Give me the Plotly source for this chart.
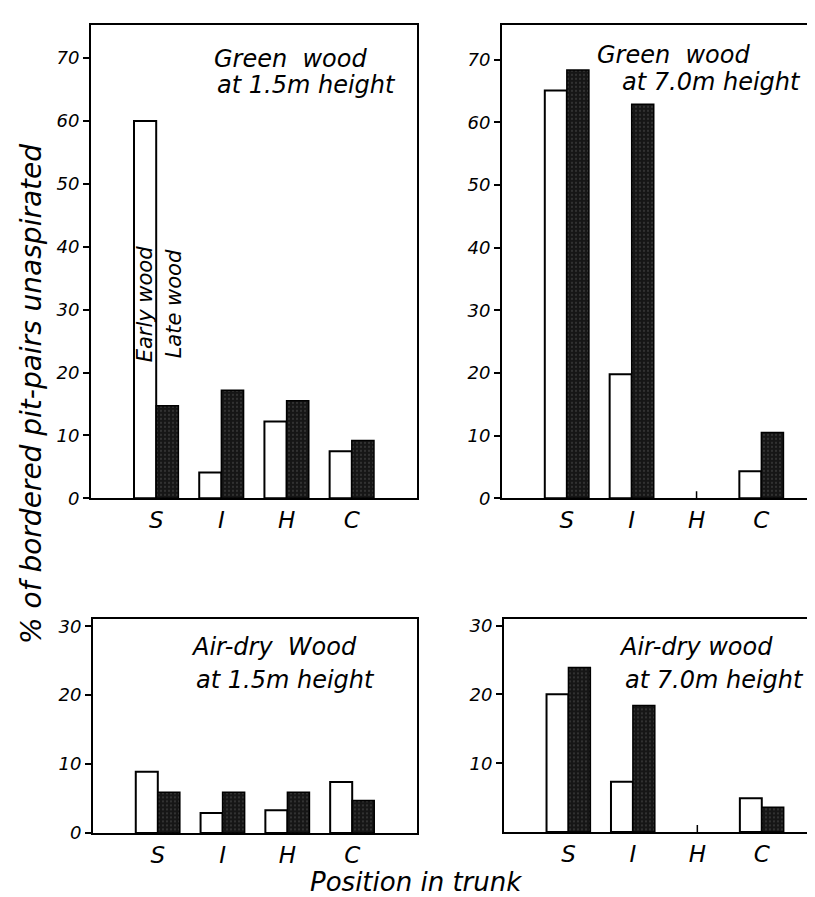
import plotly.graph_objects as go

categories = ["S", "I", "H", "C"]

green_15_early = [60.0, 4.1, 12.2, 7.5]
green_15_late = [14.7, 17.2, 15.5, 9.2]
green_70_early = [65.1, 19.8, None, 4.3]
green_70_late = [68.4, 62.9, None, 10.5]
air_15_early = [8.9, 2.9, 3.3, 7.4]
air_15_late = [5.9, 5.9, 5.9, 4.7]
air_70_early = [20.0, 7.3, None, 4.9]
air_70_late = [23.9, 18.4, None, 3.6]

top_ticks = [0, 10, 20, 30, 40, 50, 60, 70]
bl_ticks = [0, 10, 20, 30]
br_ticks = [10, 20, 30]

W, H = 815, 897
FONT = "DejaVu Sans"

def px_x(p):
    return p / W

def px_y(p):
    return 1 - p / H

fig = go.Figure()

panels = [
    ("x", "y", green_15_early, green_15_late),
    ("x2", "y2", green_70_early, green_70_late),
    ("x3", "y3", air_15_early, air_15_late),
    ("x4", "y4", air_70_early, air_70_late),
]

for xa, ya, early, late in panels:
    fig.add_trace(go.Bar(
        x=categories, y=early, xaxis=xa, yaxis=ya, name="Early wood",
        marker=dict(color="white", line=dict(color="black", width=2)),
        showlegend=False,
    ))
    fig.add_trace(go.Bar(
        x=categories, y=late, xaxis=xa, yaxis=ya, name="Late wood",
        marker=dict(color="#161616", line=dict(color="black", width=1.5),
                    pattern=dict(shape=".", fgcolor="#9a9a9a", bgcolor="#161616",
                                 size=4, solidity=0.12)),
        showlegend=False,
    ))

xbase = dict(type="category", showline=True, linecolor="black", linewidth=2,
             mirror=True, ticks="", showgrid=False, zeroline=False,
             tickfont=dict(family=FONT, size=23, color="black", style="italic"))
ybase = dict(showline=True, linecolor="black", linewidth=2, ticks="outside",
             ticklen=6, tickwidth=1.5, tickcolor="black", showgrid=False,
             zeroline=False,
             tickfont=dict(family=FONT, size=18, color="black", style="italic"))

fig.update_layout(
    width=W, height=H, margin=dict(l=0, r=0, t=0, b=0),
    paper_bgcolor="white", plot_bgcolor="white",
    barmode="group", bargap=0.32, bargroupgap=0,
    xaxis=dict(xbase, domain=[px_x(83), px_x(409)], range=[-1, 4], anchor="y"),
    yaxis=dict(ybase, domain=[px_y(494), px_y(13)], range=[0, 75.3],
               tickvals=top_ticks, mirror=True, anchor="x"),
    xaxis2=dict(xbase, domain=[px_x(494), 1.0], range=[-1, 3.95], anchor="y2"),
    yaxis2=dict(ybase, domain=[px_y(494), px_y(13)], range=[0, 75.6],
                tickvals=top_ticks, mirror=False, anchor="x2"),
    xaxis3=dict(xbase, domain=[px_x(85), px_x(409)], range=[-1, 4], anchor="y3"),
    yaxis3=dict(ybase, domain=[px_y(834), px_y(617)], range=[0, 31],
                tickvals=bl_ticks, mirror=True, anchor="x3"),
    xaxis4=dict(xbase, domain=[px_x(496), 1.0], range=[-1, 3.95], anchor="y4"),
    yaxis4=dict(ybase, domain=[px_y(833), px_y(617)], range=[0, 30.9],
                tickvals=br_ticks, mirror=False, anchor="x4"),
)

# small tick marks at H on the right-hand panels
for xr, yr in [("x2", "y2"), ("x4", "y4")]:
    fig.add_shape(type="line", xref=xr, yref=yr, x0="H", x1="H",
                  ysizemode="pixel", yanchor=0, y0=0, y1=7,
                  line=dict(color="black", width=1.5))

def note(text, xp, yp, size=24, angle=0, xanchor="left"):
    fig.add_annotation(text=text, xref="paper", yref="paper",
                       x=px_x(xp), y=px_y(yp), showarrow=False,
                       xanchor=xanchor, yanchor="middle", textangle=angle,
                       align="left",
                       font=dict(family=FONT, size=size, color="black",
                                 style="italic"))

note("Green  wood", 204, 48)
note("at 1.5m height", 207, 74)
note("Green  wood", 587, 44)
note("at 7.0m height", 612, 71)
note("Air-dry  Wood", 181, 645)
note("at 1.5m height", 186, 679)
note("Air-dry wood", 609, 645)
note("at 7.0m height", 615, 679)

note("Early wood", 137, 297, size=21, angle=-90, xanchor="center")
note("Late wood", 166, 297, size=21, angle=-90, xanchor="center")

note("% of bordered pit-pairs unaspirated", 24, 388, size=28, angle=-90,
     xanchor="center")
note("Position in trunk", 408, 884, size=26, xanchor="center")

fig.write_html("out.html")
